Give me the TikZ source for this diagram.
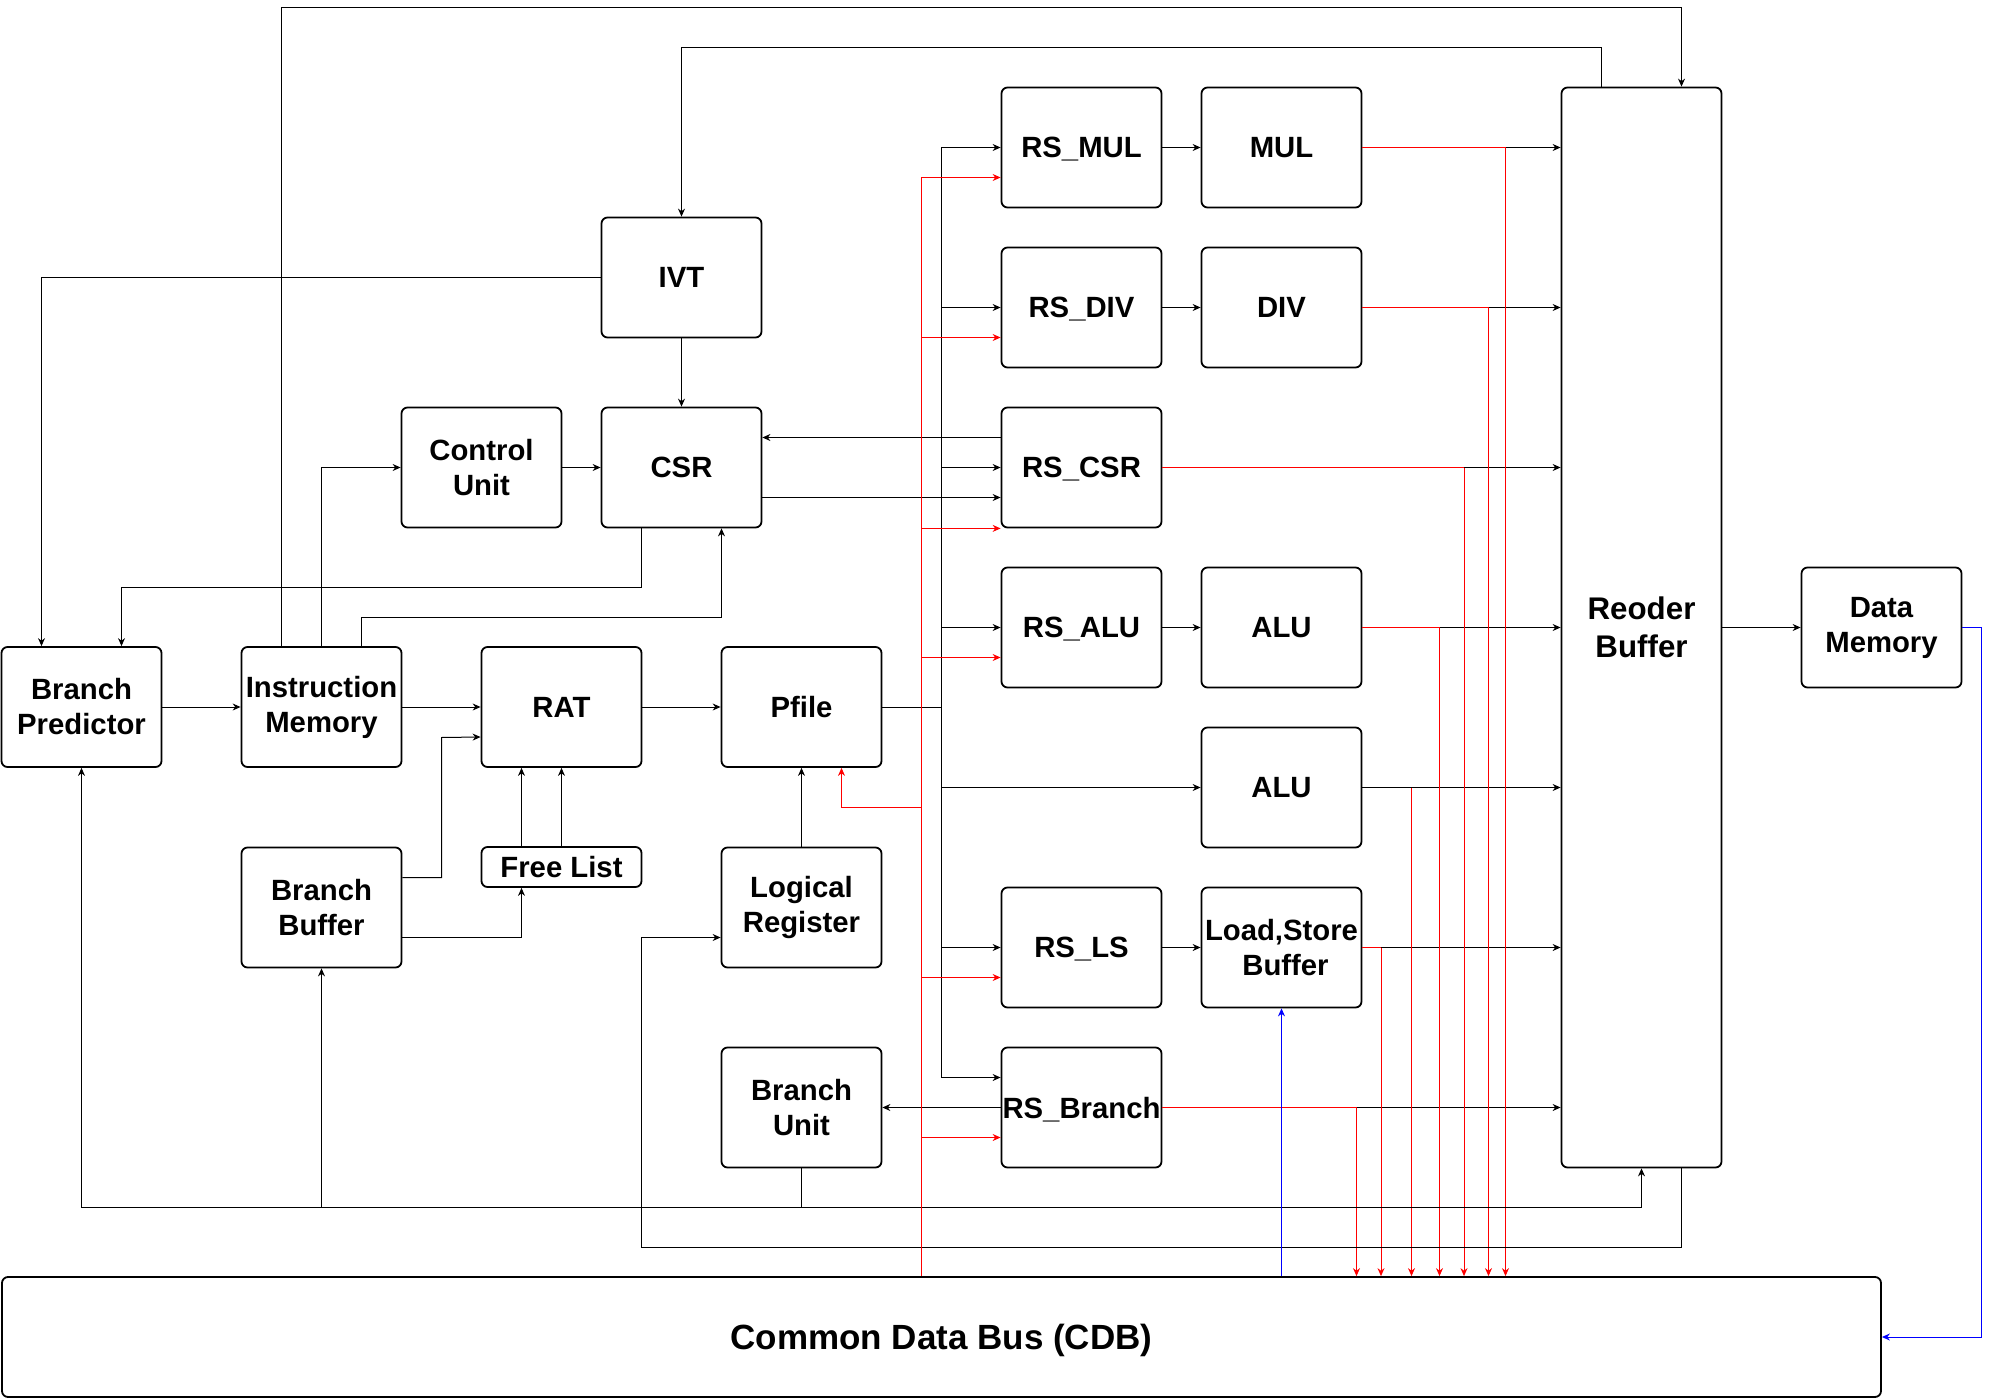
\documentclass[tikz,border=0pt]{standalone}
\usepackage{fontspec}
\setmainfont{Liberation Sans}
\usetikzlibrary{arrows.meta}
\newcommand\boxfont{\bfseries\fontsize{29.3}{35}\selectfont}
\newcommand\robfont{\bfseries\fontsize{31.3}{37.5}\selectfont}
\newcommand\busfont{\bfseries\fontsize{35}{40}\selectfont}
\begin{document}
\begin{tikzpicture}[x=1pt,y=-1pt,
  box/.style={draw, line width=1.8pt, rounded corners=6pt, fill=white,
    minimum width=160pt, minimum height=120pt, inner sep=0pt, align=center, font=\boxfont},
  oneline/.style={text depth=0pt},
  conn/.style={line width=1pt, -{Stealth[length=8pt,width=7pt]}},
  wire/.style={line width=1pt}]
\useasboundingbox (0,0) rectangle (1990,1399);

% nodes
\node[box] (BP) at (81.5,707) {Branch\\Predictor};
\node[box] (IM) at (321.5,707) {Instruction\\Memory};
\node[box, oneline] (RAT) at (561.5,707) {RAT};
\node[box, oneline] (Pfile) at (801.5,707) {Pfile};
\node[box, oneline] (IVT) at (681.5,277.5) {IVT};
\node[box] (CU) at (481.5,467.5) {Control\\Unit};
\node[box, oneline] (CSR) at (681.5,467.5) {CSR};
\node[box] (BB) at (321.5,907.5) {Branch\\Buffer};
\node[box, oneline, minimum height=40pt] (FL) at (561.5,867) {Free List};
\node[box] (LR) at (801.5,907.5) {Logical\\Register};
\node[box] (BU) at (801.5,1107.5) {Branch\\Unit};
\node[box, oneline] (RSMUL) at (1081.5,147.5) {RS\_MUL};
\node[box, oneline] (MUL) at (1281.5,147.5) {MUL};
\node[box, oneline] (RSDIV) at (1081.5,307.5) {RS\_DIV};
\node[box, oneline] (DIV) at (1281.5,307.5) {DIV};
\node[box, oneline] (RSCSR) at (1081.5,467.5) {RS\_CSR};
\node[box, oneline] (RSALU) at (1081.5,627.5) {RS\_ALU};
\node[box, oneline] (ALU) at (1281.5,627.5) {ALU};
\node[box, oneline] (ALUB) at (1281.5,787.5) {ALU};
\node[box, oneline] (RSLS) at (1081.5,947.5) {RS\_LS};
\node[box] (LSB) at (1281.5,947.5) {Load,Store\\\hspace*{8pt}Buffer};
\node[box, oneline] (RSBR) at (1081.5,1107.5) {RS\_Branch};
\node[box, minimum height=1080pt, font=\robfont] (ROB) at (1641.5,627.5) {Reoder\\Buffer};
\node[box] (DM) at (1881.5,627.5) {Data\\Memory};
\node[box, oneline, minimum width=1879pt, font=\busfont] (CDB) at (941.5,1337) {Common Data Bus (CDB)};

% waypoints
\coordinate (w1) at (1681.5,7.5);
\coordinate (w2) at (681.5,47.5);
\coordinate (w7) at (721.5,617.5);
\coordinate (w8) at (641.5,587.5);
\coordinate (w14) at (441.5,737.5);
\coordinate (w24) at (801.5,1207.5);
\coordinate (w25a) at (1681.5,1247.5);
\coordinate (w25b) at (641.5,937.5);
\coordinate (bt) at (941.5,147.5);
\coordinate (bb) at (941.5,1077.5);
\coordinate (rt) at (921.5,177.5);
\coordinate (rp) at (841.5,807.5);
\coordinate (wb) at (1981.5,1337);
\coordinate (dMUL) at (1505.5,147.5);
\coordinate (dDIV) at (1488.5,307.5);
\coordinate (dCSR) at (1464,467.5);
\coordinate (dALU) at (1439.5,627.5);
\coordinate (dALUB) at (1411.5,787.5);
\coordinate (dLSB) at (1381,947.5);
\coordinate (dBR) at (1356.5,1107.5);

% black connectors
\draw[conn] ([xshift=-40pt]IM.north) |- (w1) -- ([xshift=40pt]ROB.north);
\draw[conn] ([xshift=-40pt]ROB.north) |- (w2) -- (IVT.north);
\draw[conn] (IVT.west) -| ([xshift=-40pt]BP.north);
\draw[conn] (IVT) -- (CSR);
\draw[conn] (CU) -- (CSR);
\draw[conn] (IM.north) |- (CU.west);
\draw[conn] ([xshift=40pt]IM.north) |- (w7) -- ([xshift=40pt]CSR.south);
\draw[conn] ([xshift=-40pt]CSR.south) -- (w8) -| ([xshift=40pt]BP.north);
\draw[conn] ([yshift=30pt]RSCSR.west) -- ([yshift=30pt]CSR.east);
\draw[conn] ([yshift=-30pt]CSR.east) -- ([yshift=-30pt]RSCSR.west);
\draw[conn] (BP) -- (IM);
\draw[conn] (IM) -- (RAT);
\draw[conn] (RAT) -- (Pfile);
\draw[conn] ([yshift=30pt]BB.east) -| (w14) -- ([yshift=-30pt]RAT.west);
\draw[conn] ([yshift=-30pt]BB.east) -| ([xshift=-40pt]FL.south);
\draw[conn] ([xshift=-40pt]FL.north) -- ([xshift=-40pt]RAT.south);
\draw[conn] (FL) -- (RAT);
\draw[conn] (LR) -- (Pfile);

% issue bus
\draw[wire] (bt) -- (bb);
\draw[wire] (Pfile.east) -- (Pfile.east -| bt);
\draw[conn] (bt) -- (RSMUL.west);
\draw[conn] (RSDIV.west -| bt) -- (RSDIV.west);
\draw[conn] (RSCSR.west -| bt) -- (RSCSR.west);
\draw[conn] (RSALU.west -| bt) -- (RSALU.west);
\draw[conn] (ALUB.west -| bt) -- (ALUB.west);
\draw[conn] (RSLS.west -| bt) -- (RSLS.west);
\draw[conn] (bb) -- (bb -| RSBR.west);

\draw[conn] (RSMUL) -- (MUL);
\draw[conn] (RSDIV) -- (DIV);
\draw[conn] (RSALU) -- (ALU);
\draw[conn] (RSLS) -- (LSB);
\draw[conn] (RSBR) -- (BU);

% outputs to ROB
\draw[wire, red] (MUL.east) -- (dMUL);
\draw[conn] (dMUL) -- (dMUL -| ROB.west);
\draw[wire, red] (DIV.east) -- (dDIV);
\draw[conn] (dDIV) -- (dDIV -| ROB.west);
\draw[wire, red] (RSCSR.east) -- (dCSR);
\draw[conn] (dCSR) -- (dCSR -| ROB.west);
\draw[wire, red] (ALU.east) -- (dALU);
\draw[conn] (dALU) -- (dALU -| ROB.west);
\draw[conn] (ALUB.east) -- (ALUB.east -| ROB.west);
\draw[wire, red] (LSB.east) -- (dLSB);
\draw[conn] (dLSB) -- (dLSB -| ROB.west);
\draw[wire, red] (RSBR.east) -- (dBR);
\draw[conn] (dBR) -- (dBR -| ROB.west);

% drops to CDB
\foreach \d in {dMUL,dDIV,dCSR,dALU,dALUB,dLSB,dBR}
  \draw[conn, red] (\d) -- (\d |- CDB.north);

\draw[conn] (ROB) -- (DM);

% bottom routes
\draw[wire] (BU.south) -- (w24);
\draw[conn] (w24) -| (BP.south);
\draw[conn] (w24) -| (ROB.south);
\draw[conn] (BB.south |- w24) -- (BB.south);
\draw[conn] ([xshift=40pt]ROB.south) -- (w25a) -| (w25b) -- ([yshift=-30pt]LR.west);

% red CDB bus
\draw[wire, red] (rt) -- (rt |- CDB.north);
\draw[conn, red] (rt) -- ([yshift=-30pt]RSMUL.west);
\draw[conn, red] ([yshift=-30pt]RSDIV.west -| rt) -- ([yshift=-30pt]RSDIV.west);
\draw[conn, red] (RSCSR.south west -| rt) -- (RSCSR.south west);
\draw[conn, red] ([yshift=-30pt]RSALU.west -| rt) -- ([yshift=-30pt]RSALU.west);
\draw[conn, red] ([yshift=-30pt]RSLS.west -| rt) -- ([yshift=-30pt]RSLS.west);
\draw[conn, red] ([yshift=-30pt]RSBR.west -| rt) -- ([yshift=-30pt]RSBR.west);
\draw[conn, red] (rp -| rt) -- (rp) -- ([xshift=40pt]Pfile.south);

% blue
\draw[conn, blue] (CDB.north -| LSB) -- (LSB.south);
\draw[conn, blue] (DM.east) -| (wb) -- (CDB.east);
\end{tikzpicture}
\end{document}
